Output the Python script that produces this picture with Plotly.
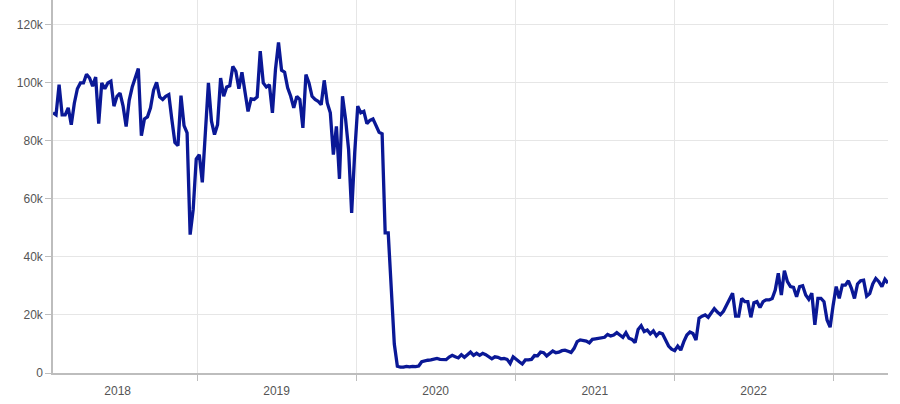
import plotly.graph_objects as go
import pandas as pd

# --- Weekly values (thousands) ---
START_DATE = "2018-02-04"

vals_2018 = [
    89.7, 89.0, 99.4, 89.0, 89.0, 91.4, 85.6, 93.0, 98.0, 100.0,
    100.0, 103.0, 101.7, 98.9, 102.0, 86.0, 100.0, 98.0, 100.0, 100.6,
    92.0, 95.4, 96.5, 92.0, 85.0, 94.0, 98.6, 101.7, 105.0, 81.8,
    87.6, 88.3, 91.4, 97.5, 100.2, 95.2, 94.3, 95.4, 96.0, 87.4,
    79.5, 78.4, 95.6, 85.3, 82.8, 47.7, 56.3, 73.8, 75.3, 65.7,
    85.0, 100.0, 86.8, 82.2, 85.6,
]

vals_2019 = [
    101.7, 95.4, 98.6, 99.0, 105.7, 104.0, 98.0, 103.7, 97.7, 90.2,
    94.5, 94.3, 95.2, 111.0, 100.0, 98.6, 99.4, 89.7, 104.6, 114.0,
    104.4, 103.7, 98.3, 95.4, 91.4, 95.4, 94.3, 84.5, 102.9, 100.0,
    95.4, 94.3, 93.7, 92.5, 100.9, 93.1, 89.7, 75.3, 85.0, 66.9,
    95.4, 87.6, 77.0, 55.2, 75.9, 92.0, 89.7, 90.2, 86.0, 87.1,
    87.6, 85.6, 83.0, 82.5, 48.3, 48.3, 30.0, 10.0, 2.3, 2.0,
    2.0, 2.3,
]

vals_2020 = [
    2.1, 2.3, 2.2, 2.4, 3.9, 4.2, 4.4, 4.5, 4.9, 5.0,
    4.7, 4.7, 4.6, 5.5, 6.1, 5.6, 5.2, 6.3, 5.4, 6.3,
    7.2, 6.1, 6.8, 6.1, 6.8, 6.3, 5.6, 4.9, 5.6, 5.4,
    4.9, 5.0, 4.7, 3.3, 5.6, 4.9, 3.9, 3.1, 4.5, 4.5,
    4.7, 6.0,
]

vals_2021 = [
    5.9, 7.2, 7.0, 5.9, 6.6, 7.6, 7.0, 7.2, 7.7, 7.9,
    7.5, 7.1, 8.5, 10.8, 11.4, 11.3, 11.0, 10.4, 11.6, 11.8,
    12.0, 12.2, 12.3, 13.3, 12.8, 13.1, 13.9, 13.1, 12.3, 13.9,
    12.0, 11.6, 10.5, 15.0, 16.3, 14.3, 14.8, 13.5, 14.5, 12.8,
    13.9, 13.5, 11.4, 9.3, 8.2, 7.7, 9.3, 7.9,
]

vals_2022 = [
    10.8, 13.1, 14.1, 13.6, 11.4, 18.9, 19.6, 20.0, 19.2, 20.8,
    22.2, 21.0, 20.1, 21.3, 23.4, 25.7, 27.5, 19.6, 19.6, 25.7,
    24.6, 24.6, 19.2, 24.2, 24.6, 22.6, 24.6, 25.2, 25.2, 25.7,
    28.6, 34.4, 26.9, 35.3, 31.5, 29.8, 29.5, 26.3, 29.8, 30.1,
    26.9, 25.4, 27.5, 16.6, 25.7, 25.7, 24.6, 18.3, 15.8,
]

vals_2023 = [
    23.4, 29.8, 25.7, 30.3, 30.3, 31.8, 29.2, 25.7, 30.7, 31.8,
    32.0, 26.5, 27.4, 30.7, 32.6, 31.5, 29.8, 32.3, 31.0,
]

values = [v * 1000 for v in
          vals_2018 + vals_2019 + vals_2020 + vals_2021 + vals_2022 + vals_2023]
dates = pd.date_range(START_DATE, periods=len(values), freq="7D")

LINE_COLOR = "#0a1896"
GRID = "#e6e6e6"
AXIS = "#bdbdbd"
TEXT = "#555555"

fig = go.Figure(
    go.Scatter(
        x=dates,
        y=values,
        mode="lines",
        line=dict(color=LINE_COLOR, width=3.3),
        hovertemplate="%{x|%d %b %Y}<br>%{y:,.0f}<extra></extra>",
    )
)

fig.update_layout(
    width=900,
    height=404,
    margin=dict(l=53, r=12, t=0, b=31),
    paper_bgcolor="white",
    plot_bgcolor="white",
    showlegend=False,
    font=dict(family="Liberation Sans, Arial, sans-serif", size=12, color=TEXT),
)

fig.update_xaxes(
    type="date",
    range=[dates[0], dates[-1]],
    dtick="M12",
    tick0="2018-01-01",
    tickformat="%Y",
    ticklabelmode="period",
    ticks="outside",
    ticklen=6,
    tickcolor=AXIS,
    showgrid=True,
    gridcolor=GRID,
    showline=True,
    linecolor=AXIS,
    linewidth=1.5,
    zeroline=False,
)

fig.update_yaxes(
    range=[0, 128600],
    dtick=20000,
    tickformat="~s",
    ticks="outside",
    ticklen=6,
    tickcolor=AXIS,
    showgrid=True,
    gridcolor=GRID,
    showline=True,
    linecolor=AXIS,
    linewidth=1.5,
    zeroline=False,
)

# page body has a default 8px margin; drop it so the chart fills the window
fig.write_html(
    "out.html",
    config={"displayModeBar": False},
    post_script="document.body.style.margin='0';",
)
